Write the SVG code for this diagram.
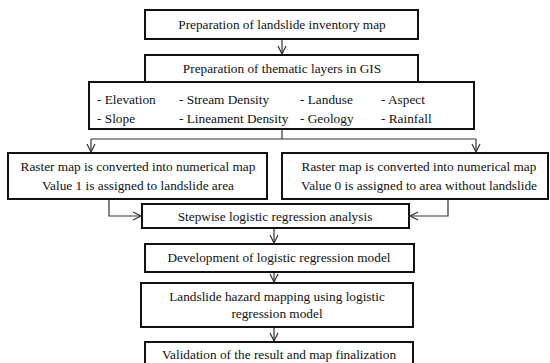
<svg xmlns="http://www.w3.org/2000/svg" width="550" height="363" viewBox="0 0 550 363">
<defs>
<style>
.box{fill:#fff;stroke:#111;stroke-width:2}
text{font-family:'Liberation Serif','Times New Roman','DejaVu Serif',serif;font-size:13.3px;fill:#111}
.c{text-anchor:middle}
.ln{fill:none;stroke:#333;stroke-width:1.2}
</style>
<marker id="ah" markerUnits="userSpaceOnUse" markerWidth="10" markerHeight="10" viewBox="0 0 10 10" refX="9" refY="5" orient="auto">
<path d="M1,1 L9,5 L1,9" fill="none" stroke="#333" stroke-width="1.2"/>
</marker>
</defs>
<rect width="550" height="363" fill="#fff"/>
<g id="connectors">
<line class="ln" x1="282" y1="39" x2="282" y2="54" marker-end="url(#ah)"/>
<polyline class="ln" points="282,129 282,139"/>
<line class="ln" x1="91" y1="139" x2="476" y2="139"/>
<line class="ln" x1="91" y1="139" x2="91" y2="152" marker-end="url(#ah)"/>
<line class="ln" x1="476" y1="139" x2="476" y2="152" marker-end="url(#ah)"/>
<polyline class="ln" points="109,199 109,216 141,216" marker-end="url(#ah)"/>
<polyline class="ln" points="448,199 448,216 410,216" marker-end="url(#ah)"/>
<line class="ln" x1="274" y1="228" x2="274" y2="243" marker-end="url(#ah)"/>
<line class="ln" x1="274" y1="272" x2="274" y2="282" marker-end="url(#ah)"/>
<line class="ln" x1="274" y1="327" x2="274" y2="341" marker-end="url(#ah)"/>
</g>
<g id="n1">
<rect class="box" x="145" y="10" width="273" height="29"/>
<text class="c" x="282" y="29">Preparation of landslide inventory map</text>
</g>
<g id="n2">
<rect class="box" x="145" y="55" width="273" height="27"/>
<text class="c" x="282" y="73">Preparation of thematic layers in GIS</text>
</g>
<g id="n3">
<rect class="box" x="89" y="82" width="385" height="47"/>
<text x="97" y="104">- Elevation</text>
<text x="179" y="104">- Stream Density</text>
<text x="300" y="104">- Landuse</text>
<text x="381" y="104">- Aspect</text>
<text x="97" y="123">- Slope</text>
<text x="179" y="123">- Lineament Density</text>
<text x="300" y="123">- Geology</text>
<text x="381" y="123">- Rainfall</text>
</g>
<g id="n4">
<rect class="box" x="8" y="153" width="259" height="46"/>
<text class="c" x="138" y="171">Raster map is converted into numerical map</text>
<text class="c" x="138" y="190">Value 1 is assigned to landslide area</text>
</g>
<g id="n5">
<rect class="box" x="282" y="153" width="266" height="46"/>
<text class="c" x="419" y="171">Raster map is converted into numerical map</text>
<text class="c" x="419" y="190">Value 0 is assigned to area without landslide</text>
</g>
<g id="n6">
<rect class="box" x="142" y="204" width="267" height="24"/>
<text class="c" x="275" y="221">Stepwise logistic regression analysis</text>
</g>
<g id="n7">
<rect class="box" x="145" y="244" width="269" height="28"/>
<text class="c" x="279" y="262">Development of logistic regression model</text>
</g>
<g id="n8">
<rect class="box" x="141" y="283" width="272" height="44"/>
<text class="c" x="277" y="301">Landslide hazard mapping using logistic</text>
<text class="c" x="277" y="318">regression model</text>
</g>
<g id="n9">
<rect class="box" x="145" y="342" width="268" height="30"/>
<text class="c" x="279" y="359">Validation of the result and map finalization</text>
</g>
</svg>
